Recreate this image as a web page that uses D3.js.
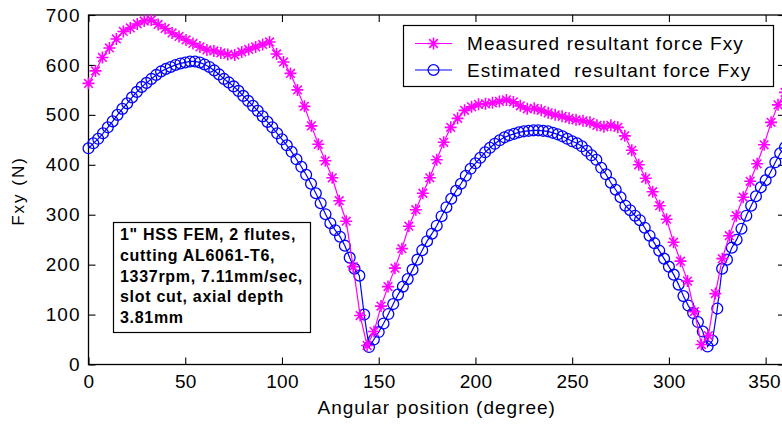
<!DOCTYPE html>
<html>
<head>
<meta charset="utf-8">
<script src="https://cdnjs.cloudflare.com/ajax/libs/d3/7.8.5/d3.min.js"></script>
<style>
body { margin: 0; background: #fff; }
svg text { font-family: Arial, "Liberation Sans", sans-serif; fill: #000; }
</style>
</head>
<body>
<svg id="chart" width="782" height="425"></svg>
<script>
// measured resultant force, sampled every 3.6 degrees
const measuredAngles = [
    0, 3.6, 7.2, 10.8, 14.4, 18, 21.6, 25.2, 28.8, 32.4,
    36, 39.6, 43.2, 46.8, 50.4, 54, 57.6, 61.2, 64.8, 68.4,
    72, 75.6, 79.2, 82.8, 86.4, 90, 93.6, 97.2, 100.8, 104.4,
    108, 111.6, 115.2, 118.8, 122.4, 126, 129.6, 133.2, 136.8, 140.4,
    144, 147.6, 151.2, 154.8, 158.4, 162, 165.6, 169.2, 172.8, 176.4,
    180, 183.6, 187.2, 190.8, 194.4, 198, 201.6, 205.2, 208.8, 212.4,
    216, 219.6, 223.2, 226.8, 230.4, 234, 237.6, 241.2, 244.8, 248.4,
    252, 255.6, 259.2, 262.8, 266.4, 270, 273.6, 277.2, 280.8, 284.4,
    288, 291.6, 295.2, 298.8, 302.4, 306, 309.6, 313.2, 316.8, 320.4,
    324, 327.6, 331.2, 334.8, 338.4, 342, 345.6, 349.2, 352.8, 356.4,
    360
];
const measuredForce = [
    563, 588, 615, 634, 652, 667, 674, 682, 688, 690,
    681, 673, 664, 657, 650, 643, 636, 630, 628, 624,
    621, 620, 626, 631, 636, 641, 646, 622, 606, 583,
    550, 517, 478, 441, 408, 374, 328, 287, 196, 98,
    38, 66, 117, 156, 193, 232, 277, 310, 343, 374,
    410, 445, 475, 493, 509, 516, 521, 522, 524, 527,
    530, 526, 518, 512, 513, 509, 504, 500, 497, 493,
    490, 488, 485, 479, 476, 479, 475, 458, 429, 400,
    373, 346, 318, 291, 245, 207, 167, 106, 40, 58,
    142, 212, 258, 298, 335, 367, 402, 440, 485, 520,
    545
];

// estimated resultant force, sampled every 2.5 degrees
const estimatedAngles = [
    0, 2.5, 5, 7.5, 10, 12.5, 15, 17.5, 20, 22.5,
    25, 27.5, 30, 32.5, 35, 37.5, 40, 42.5, 45, 47.5,
    50, 52.5, 55, 57.5, 60, 62.5, 65, 67.5, 70, 72.5,
    75, 77.5, 80, 82.5, 85, 87.5, 90, 92.5, 95, 97.5,
    100, 102.5, 105, 107.5, 110, 112.5, 115, 117.5, 120, 122.5,
    125, 127.5, 130, 132.5, 135, 137.5, 140, 142.5, 145, 147.5,
    150, 152.5, 155, 157.5, 160, 162.5, 165, 167.5, 170, 172.5,
    175, 177.5, 180, 182.5, 185, 187.5, 190, 192.5, 195, 197.5,
    200, 202.5, 205, 207.5, 210, 212.5, 215, 217.5, 220, 222.5,
    225, 227.5, 230, 232.5, 235, 237.5, 240, 242.5, 245, 247.5,
    250, 252.5, 255, 257.5, 260, 262.5, 265, 267.5, 270, 272.5,
    275, 277.5, 280, 282.5, 285, 287.5, 290, 292.5, 295, 297.5,
    300, 302.5, 305, 307.5, 310, 312.5, 315, 317.5, 320, 322.5,
    325, 327.5, 330, 332.5, 335, 337.5, 340, 342.5, 345, 347.5,
    350, 352.5, 355, 357.5, 360
];
const estimatedForce = [
    433, 443, 452, 463, 475, 487, 500, 512, 523, 535,
    546, 556, 564, 572, 580, 587, 592, 596, 600, 603,
    605, 607, 607, 605, 601, 596, 589, 581, 572, 565,
    557, 548, 538, 528, 518, 508, 497, 486, 475, 463,
    451, 439, 426, 411, 396, 380, 362, 343, 323, 301,
    283, 269, 256, 238, 214, 192, 178, 100, 35, 50,
    65, 82, 101, 121, 140, 156, 171, 190, 210, 229,
    247, 262, 278, 297, 315, 332, 348, 362, 378, 392,
    403, 414, 425, 434, 442, 449, 455, 459, 462, 465,
    467, 468, 469, 469, 468, 467, 464, 461, 457, 452,
    447, 443, 437, 428, 419, 410, 394, 381, 364, 350,
    335, 318, 309, 298, 289, 274, 258, 243, 228, 212,
    196, 180, 160, 137, 118, 103, 85, 66, 36, 48,
    112, 192, 210, 234, 250, 272, 298, 318, 337, 355,
    369, 385, 405, 423, 435
];

const xTicks = [0, 50, 100, 150, 200, 250, 300, 350];
const yTicks = [0, 100, 200, 300, 400, 500, 600, 700];

const seriesNames = ['Measured resultant force Fxy', 'Estimated  resultant force Fxy'];
const noteLines = [
    '1" HSS FEM, 2 flutes,',
    'cutting AL6061-T6,',
    '1337rpm, 7.11mm/sec,',
    'slot cut, axial depth',
    '3.81mm'
];

const measuredColor = '#ff00ff';
const estimatedColor = '#0000ff';

// plot box (right edge runs just past the picture)
const plotLeft = 88.5, plotRight = 785, plotTop = 15, plotBottom = 364.5;

const svg = d3.select('#chart');

const x = d3.scaleLinear().domain([0, 360]).range([plotLeft, plotRight]);
const y = d3.scaleLinear().domain([0, 700]).range([plotBottom, plotTop]);

// star marker like matlab '*' : plus and cross together
function starPath(cx, cy, r) {
    const d = r * 0.72;
    return `M${cx - r},${cy}L${cx + r},${cy}M${cx},${cy - r}L${cx},${cy + r}` +
        `M${cx - d},${cy - d}L${cx + d},${cy + d}M${cx - d},${cy + d}L${cx + d},${cy - d}`;
}

function styleTicks(g, spacing) {
    g.select('.domain').remove();
    g.selectAll('line').attr('stroke', '#000').attr('stroke-width', 1.1);
    g.selectAll('text')
        .style('font-size', '19px')
        .style('letter-spacing', spacing)
        .attr('fill', '#000');
}

// axes, ticks inward on all four sides
svg.append('g')
    .attr('transform', `translate(0,${plotBottom})`)
    .call(d3.axisBottom(x).tickValues(xTicks).tickSizeInner(-7).tickSizeOuter(0).tickPadding(10))
    .call(styleTicks, '0.3px');
svg.append('g')
    .attr('transform', `translate(0,${plotTop})`)
    .call(d3.axisTop(x).tickValues(xTicks).tickSizeInner(-7).tickSizeOuter(0).tickFormat(''))
    .call(styleTicks, '0px');
svg.append('g')
    .attr('transform', `translate(${plotLeft},0)`)
    .call(d3.axisLeft(y).tickValues(yTicks).tickSizeInner(-7).tickSizeOuter(0).tickPadding(8))
    .call(styleTicks, '1px');
svg.append('g')
    .attr('transform', `translate(${plotRight},0)`)
    .call(d3.axisRight(y).tickValues(yTicks).tickSizeInner(-7).tickSizeOuter(0).tickFormat(''))
    .call(styleTicks, '0px');

// last x label sits right at the picture edge, pull it in a little
svg.selectAll('g.tick text')
    .filter(d => d === 350)
    .attr('dx', '-1.5');

svg.append('rect')
    .attr('x', plotLeft).attr('y', plotTop)
    .attr('width', plotRight - plotLeft).attr('height', plotBottom - plotTop)
    .attr('fill', 'none').attr('stroke', '#000').attr('stroke-width', 1.3);

const estData = estimatedAngles.map((a, i) => [a, estimatedForce[i]]);
const measData = measuredAngles.map((a, i) => [a, measuredForce[i]]);

const line = d3.line().x(d => x(d[0])).y(d => y(d[1]));

// estimated series
svg.append('path')
    .datum(estData)
    .attr('d', line)
    .attr('fill', 'none')
    .attr('stroke', estimatedColor)
    .attr('stroke-width', 1.2);

svg.append('g').selectAll('circle')
    .data(estData)
    .enter().append('circle')
    .attr('cx', d => x(d[0]))
    .attr('cy', d => y(d[1]))
    .attr('r', 5.4)
    .attr('fill', 'none')
    .attr('stroke', estimatedColor)
    .attr('stroke-width', 1.3);

// measured series
svg.append('path')
    .datum(measData)
    .attr('d', line)
    .attr('fill', 'none')
    .attr('stroke', measuredColor)
    .attr('stroke-width', 1.2);

svg.append('g').selectAll('path')
    .data(measData)
    .enter().append('path')
    .attr('d', d => starPath(x(d[0]), y(d[1]), 6))
    .attr('fill', 'none')
    .attr('stroke', measuredColor)
    .attr('stroke-width', 1.6);

// axis labels
svg.append('text')
    .attr('x', (plotLeft + plotRight) / 2)
    .attr('y', 414)
    .attr('text-anchor', 'middle')
    .style('font-size', '19px')
    .style('letter-spacing', '1px')
    .text('Angular position (degree)');

svg.append('text')
    .attr('transform', 'translate(23.5,191) rotate(-90)')
    .attr('text-anchor', 'middle')
    .style('font-size', '17px')
    .style('letter-spacing', '2px')
    .text('Fxy (N)');

// legend
const legend = svg.append('g');
legend.append('rect')
    .attr('x', 403.5).attr('y', 25.5)
    .attr('width', 370).attr('height', 61)
    .attr('fill', '#fff').attr('stroke', '#000').attr('stroke-width', 1.2);

const legendRows = [
    { name: seriesNames[0], color: measuredColor, marker: 'star', cy: 43.5, base: 50 },
    { name: seriesNames[1], color: estimatedColor, marker: 'circle', cy: 70, base: 77 }
];
legendRows.forEach(row => {
    legend.append('line')
        .attr('x1', 415).attr('x2', 452)
        .attr('y1', row.cy).attr('y2', row.cy)
        .attr('stroke', row.color).attr('stroke-width', 1.2);
    if (row.marker === 'star') {
        legend.append('path')
            .attr('d', starPath(433.5, row.cy, 6))
            .attr('fill', 'none').attr('stroke', row.color).attr('stroke-width', 1.6);
    } else {
        legend.append('circle')
            .attr('cx', 433.5).attr('cy', row.cy).attr('r', 5.4)
            .attr('fill', 'none').attr('stroke', row.color).attr('stroke-width', 1.3);
    }
    legend.append('text')
        .attr('x', 467).attr('y', row.base)
        .style('font-size', '19px')
        .style('letter-spacing', '1.1px')
        .style('white-space', 'pre')
        .text(row.name);
});

// cutting conditions note
const note = svg.append('g');
note.append('rect')
    .attr('x', 113.5).attr('y', 222.5)
    .attr('width', 197).attr('height', 110)
    .attr('fill', '#fff').attr('stroke', '#000').attr('stroke-width', 1.2);
note.selectAll('text.note')
    .data(noteLines)
    .enter().append('text')
    .attr('class', 'note')
    .attr('x', 120)
    .attr('y', (d, i) => 240 + i * 20.8)
    .style('font-size', '16px')
    .style('font-weight', 'bold')
    .style('letter-spacing', '0.7px')
    .text(d => d);
</script>
</body>
</html>
